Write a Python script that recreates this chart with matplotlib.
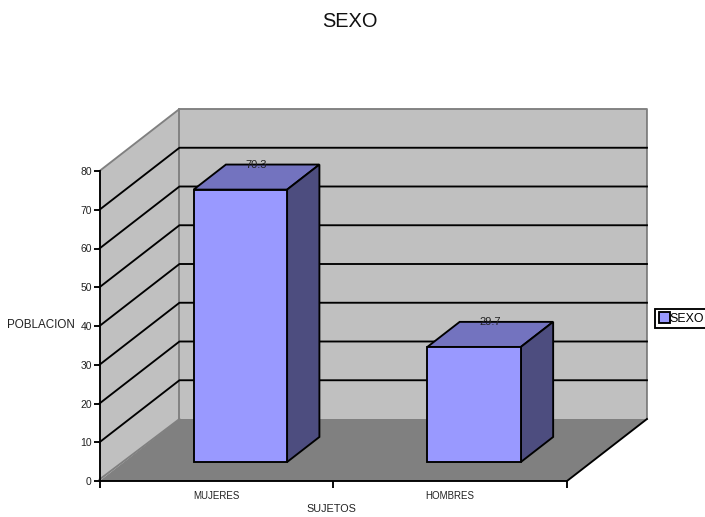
import matplotlib
matplotlib.use("Agg")
import matplotlib.pyplot as plt
from matplotlib.patches import Patch, Polygon

plt.rcParams['font.family'] = ['Liberation Sans', 'DejaVu Sans']

categorias = ['MUJERES', 'HOMBRES']
valores = [70.3, 29.7]
yticks = [0, 10, 20, 30, 40, 50, 60, 70, 80]

W, H = 705, 517
# depth of the 3D box, in data units
dx, dy = 0.342, 16.0
ancho = 0.40
prof0, prof1 = 0.30, 0.704  # bar start / end along the depth
LW = 1.35


def poly(ax, pts, color, edge='none', lw=LW, z=1):
    ax.add_patch(Polygon(pts, closed=True, facecolor=color, edgecolor=edge,
                         linewidth=lw, zorder=z, clip_on=False,
                         joinstyle='miter'))


fig = plt.figure(figsize=(W / 100, H / 100), dpi=100)
ax = fig.add_axes([99.5 / W, 1 - 481 / H, 467.5 / W, 310 / H])
ax.set_xlim(0, 2)
ax.set_ylim(0, 80)
ax.patch.set_visible(False)

# walls and floor
top = yticks[-1]
poly(ax, [(0, 0), (dx, dy), (dx, top + dy), (0, top)], '#C0C0C0')
poly(ax, [(dx, dy), (2 + dx, dy), (2 + dx, top + dy), (dx, top + dy)], '#C0C0C0')
poly(ax, [(0, 0), (2, 0), (2 + dx, dy), (dx, dy)], '#808080')

# wall borders
gris = dict(color='#808080', lw=LW, clip_on=False, zorder=1.5)
ax.plot([0, dx, 2 + dx, 2 + dx], [top, top + dy, top + dy, dy], **gris)
ax.plot([dx, dx], [dy, top + dy], **gris)
ax.plot([0, dx], [0.4, dy], **gris)
ax.plot([2, 2 + dx], [0, dy], color='black', lw=LW, clip_on=False, zorder=1.5)

# gridlines on both walls
for v in yticks[1:-1]:
    ax.plot([0, dx, 2 + dx], [v, v + dy, v + dy], color='black', lw=LW,
            clip_on=False, zorder=1.6)

# bars
for i, v in enumerate(valores):
    x0 = i + 0.5 - ancho / 2 + prof0 * dx
    x1 = x0 + ancho
    b = prof0 * dy + 0.1
    t = b + v
    sx = (prof1 - prof0) * dx
    sy = (prof1 - prof0) * dy
    poly(ax, [(x0, t), (x1, t), (x1 + sx, t + sy), (x0 + sx, t + sy)], '#7373BF', 'black', z=3)
    poly(ax, [(x1, b), (x1 + sx, b + sy), (x1 + sx, t + sy), (x1, t)], '#4D4D7F', 'black', z=3)
    poly(ax, [(x0, b), (x1, b), (x1, t), (x0, t)], '#9999FF', 'black', z=3)
    ax.text((x0 + x1) / 2 + sx / 2, t + sy, str(v), ha='center', va='center',
            fontsize=8, color='#222222', zorder=4, clip_on=False)

# axes
for s in ['top', 'right']:
    ax.spines[s].set_visible(False)
for s in ['left', 'bottom']:
    ax.spines[s].set_linewidth(LW)
ax.set_yticks(yticks)
ax.tick_params(axis='y', length=4, width=LW, pad=1.5, labelsize=7.5, labelcolor='#222222')
ax.set_xticks([0, 1, 2])
ax.set_xticklabels([])
ax.tick_params(axis='x', which='major', length=5, width=LW)
ax.set_xticks([0.5, 1.5], minor=True)
ax.set_xticklabels(categorias, minor=True, fontsize=7, color='#222222')
ax.tick_params(axis='x', which='minor', length=0, pad=7.5)

ax.set_xlabel('SUJETOS', fontsize=7.8, color='#222222')
ax.xaxis.set_label_coords((331 - 99.5) / 467.5, -(503.5 - 481) / 310, transform=ax.transAxes)
ax.set_ylabel('POBLACION', fontsize=8.4, rotation=0, ha='center', va='center', color='#222222')
ax.yaxis.set_label_coords((41 - 99.5) / 467.5, (481 - 325) / 310, transform=ax.transAxes)

fig.text(350 / W, 1 - 21.5 / H, 'SEXO', fontsize=14.4, ha='center', va='center', color='#111111')

leg = fig.legend(handles=[Patch(facecolor='#9999FF', edgecolor='black', linewidth=LW, label='SEXO')],
                 loc='center left', bbox_to_anchor=(655 / W, 1 - 318.5 / H), fontsize=8.9,
                 fancybox=False, framealpha=1, edgecolor='black', handlelength=0.9,
                 handleheight=0.9, handletextpad=0.0, borderpad=0.3, borderaxespad=0,
                 labelspacing=0)
leg.get_frame().set_linewidth(LW)

fig.savefig('out.png', dpi=100)
